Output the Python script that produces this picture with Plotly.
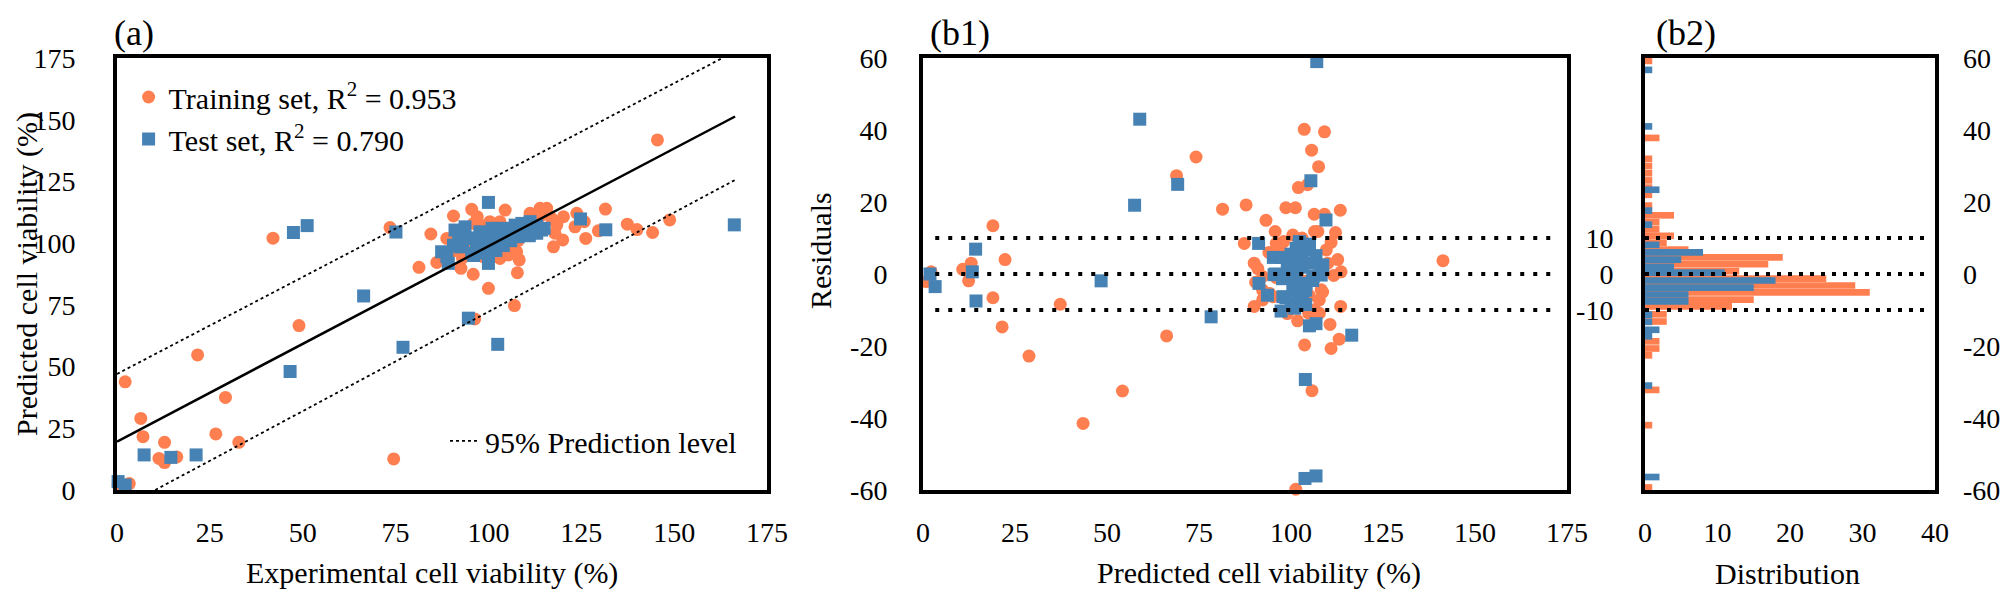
import plotly.graph_objects as go

# ---------------- data: panel (a) ----------------
train_exp = [2.2, 6.4, 7.0, 12.8, 11.3, 12.8, 16.1, 21.7, 26.6, 29.2, 32.8, 42.0, 49.0, 73.5, 74.5, 3.3, 0.3,
             96.3, 145.5, 148.8, 144.2, 140.0, 137.4, 131.5, 129.6,
             81.3, 84.5, 86.1, 90.6, 88.8, 90.6, 92.6, 95.5, 97.0, 95.9, 100.0, 100.4, 103.1, 104.5, 103.1,
             107.6, 108.3, 107.8, 107.0, 111.2, 113.9, 115.7, 117.0, 118.4, 117.9, 120.2, 117.5, 120.0, 123.8,
             123.3, 126.2, 125.8, 98.6, 100.4, 105.4,
             95, 100, 103, 106, 98, 110, 93, 97, 101, 104, 108, 112, 114, 99, 102, 105, 109, 111, 94, 96]
train_pred = [43.8, 29.0, 21.6, 19.3, 12.8, 11.1, 13.4, 54.7, 22.7, 37.5, 19.3, 102.0, 66.6, 106.3, 12.6, 2.6, 2.0,
              69.3, 141.8, 109.4, 104.3, 105.5, 107.7, 113.8, 105.0,
              90.2, 103.7, 92.2, 111.0, 101.9, 96.9, 89.8, 113.7, 110.7, 87.4, 81.7, 108.7, 108.7, 113.4, 93.8,
              96.5, 93.2, 88.0, 74.7, 112.1, 114.1, 114.1, 110.0, 107.3, 104.0, 110.7, 98.5, 101.3, 112.1,
              106.6, 101.9, 108.7, 94.5, 100.6, 95.2,
              100, 103, 100, 102, 105, 107, 94, 97, 98, 104, 101, 109, 111, 107, 96, 99, 106, 104, 103, 108]

test_exp = [0.3, 2.2, 7.3, 14.5, 21.3, 46.6, 47.5, 51.2, 66.4, 75.1, 77.0, 94.6, 102.5, 100.0, 124.8, 131.6, 166.2,
            87.4, 89.2, 91.0, 93.7, 92.4, 95.5, 100.0, 96.8, 100.0, 102.2, 104.9, 107.2, 110.3, 111.2, 113.0,
            114.3, 97.7, 94.1, 103.1, 108.0, 90.6, 88.8,
            93, 95, 97, 99, 101, 103, 105, 106, 108, 110, 112, 98, 96, 102, 104, 100, 92, 109, 106, 111,
            113, 115, 104, 101, 99, 97]
test_pred = [3.4, 2.0, 14.2, 13.2, 14.2, 48.0, 104.3, 107.1, 78.6, 104.5, 57.8, 69.6, 59.0, 116.5, 109.8, 105.4, 107.4,
             96.5, 91.8, 105.3, 106.6, 98.5, 95.9, 91.8, 100.6, 100.6, 104.6, 104.0, 107.3, 106.0, 108.7, 104.0,
             105.3, 104.6, 101.9, 99.2, 102.6, 99.2, 94.5,
             99, 102, 98, 103, 101, 102, 103, 105, 104, 104, 106, 96, 95, 97, 99, 95, 101, 108, 101, 103,
             107, 106, 106, 106, 98, 102]

fit_x = [0, 166.4]
fit_y = [19.6, 151.3]
upper_x = [0, 163]
upper_y = [47, 175]
lower_x = [10.3, 166.4]
lower_y = [0, 125.6]

# ---------------- data: panel (b1) ----------------
b1_train_pred = [2.2, 0.9, 10.8, 13.1, 12.4, 19.0, 22.3, 19.0, 21.5, 28.8, 37.3, 43.5, 54.2, 66.2, 68.9, 74.2,
                 81.4, 87.8, 87.3,
                 103.6, 109.1, 105.6, 107.5, 102.0, 104.5, 98.6, 101.2, 93.2, 106.3, 109.1, 113.4, 95.7, 112.1,
                 110.9, 90.0, 90.4, 112.7, 113.6, 111.6, 108.6, 90.0, 113.5, 101.8, 110.6, 103.7, 110.9, 113.1,
                 105.7, 101.3, 141.3, 106.4, 107.3, 96.0, 100.5, 109.6, 97.8, 92.3, 94.2, 92.3, 92.3, 107.7,
                 106.4, 104.8, 95.1, 108.2, 107.7, 91.0,
                 99, 101, 103, 105, 97, 100, 102, 104, 106, 98, 96, 94, 108, 110, 99, 103]
b1_train_res = [0.6, -2.1, 1.3, 3.0, -1.9, 13.4, 4.0, -6.6, -14.7, -22.8, -8.4, -41.5, -32.5, -17.2, 27.3, 32.5,
                18.0, 19.2, 8.5,
                40.2, 39.5, 34.4, 29.8, 24.0, 24.8, 18.4, 18.4, 14.9, 16.6, 16.6, 17.7, 11.8, 11.5,
                8.8, 3.0, -2.3, 4.0, 0.6, -0.4, -5.0, -9.0, -9.0, -13.0, -14.0, -19.7, -20.7, -18.1,
                -32.4, -59.8, 3.7, 11.8, 11.8, 8.5, 10.8, 6.7, 4.8, -0.7, -5.4, -4.5, -7.2, -10.9,
                -9.9, -10.9, -6.3, -4.4, -7.2, 1.5,
                2, -3, 5, -6, 7, -8, 1, -2, 3, 9, -1, 6, 0, 3, -11, 10]

b1_test_pred = [1.9, 3.3, 14.3, 13.4, 14.4, 48.4, 58.9, 57.5, 69.2, 78.3, 107.0, 105.4, 109.5, 91.2, 95.2, 97.3,
                91.3, 93.6, 97.3, 105.0, 106.8, 116.5, 103.9, 103.8, 106.8,
                102.3, 105.0, 101.4, 95.8, 108.6, 108.2, 102.3, 104.1, 100.5, 102.3, 98.7, 97.8, 104.1, 101.0,
                106.0, 100.1, 103.2, 95.4, 102.2, 105.0, 106.8, 108.6, 100.4, 103.2, 101.3, 104.0, 98.6, 102.2,
                99.5, 101.8, 97.7, 105.9, 103.0, 100.0, 106.0, 99.0, 104.0, 101.0]
b1_test_res = [0.0, -3.5, 6.9, 0.6, -7.5, -1.9, 43.0, 19.1, 24.9, -11.9, 59.0, 25.9, 15.0, 8.5, 4.6, 4.6,
               -2.6, -5.9, -10.3, -14.4, -13.8, -17.0, -29.3, -56.8, -56.1,
               9.0, 8.1, 7.1, 0.0, 2.5, -0.3, 3.0, -2.6, -4.4, -7.2, -0.7, -6.3, 6.7, 1.1,
               -0.7, -8.1, -5.4, -0.2, 8.3, 8.3, 5.1, 2.4, 3.0, 1.9, -2.3, -4.5, -6.6, -7.7,
               -0.2, 6.2, -1.3, -1.8, 4.5, 5.5, 3.0, 2.0, -8.5, -9.5]

ref_levels = [10, 0, -10]

# ---------------- data: panel (b2) histogram ----------------
hist_train_res = [59.2, 37.8, 32, 30, 28, 26, 24, 22, 19, 16.3, 14.4, 12.4, 10.6, 8.7, 6.8, 4.6, 2.7, 0.8,
                  -1.3, -3.2, -5.1, -7.1, -9.0, -11.2, -13.2, -18.7, -20.7, -22.6, -32.2, -42.0, -59.3]
hist_train_cnt = [1, 2, 1, 1, 1, 1, 1, 1, 1, 4, 2, 2, 4, 3, 6, 19, 17, 13,
                  25, 29, 31, 15, 12, 3, 3, 2, 2, 1, 2, 1, 1]
hist_test_res = [56.7, 41.0, 23.4, 17.6, 13.7, 8.1, 6.0, 4.0, 2.0, 0.4, -1.8, -3.8, -5.7, -7.6,
                 -11.3, -13.3, -15.5, -17.3, -31.0, -56.4]
hist_test_cnt = [1, 1, 2, 1, 1, 2, 8, 5, 4, 11, 18, 15, 6, 6,
                 1, 1, 2, 1, 1, 2]

# ticks
tick_a = [0, 25, 50, 75, 100, 125, 150, 175]
tick_res = [60, 40, 20, 0, -20, -40, -60]
tick_res_txt = ["60", "40", "20", "0", "-20", "-40", "-60"]
tick_res_left_b2 = [10, 0, -10]
tick_res_left_b2_txt = ["10", "0", "-10"]
tick_dist = [0, 10, 20, 30, 40]

ORANGE = "#FF7F50"
BLUE = "#4682B4"
FONT = "Times New Roman, Liberation Serif, serif"
TICK_SIZE = 28
TITLE_SIZE = 30
PANEL_SIZE = 36

# the page body adds an 8 px margin, so the figure is 8 px smaller on each axis
W, H = 2000, 589

fig = go.Figure()

# panel (a)
fig.add_trace(go.Scatter(x=train_exp, y=train_pred, mode="markers", name="Training set, R<sup>2</sup> = 0.953",
                         marker=dict(color=ORANGE, size=13, symbol="circle"), cliponaxis=False,
                         xaxis="x", yaxis="y", legend="legend"))
fig.add_trace(go.Scatter(x=test_exp, y=test_pred, mode="markers", name="Test set, R<sup>2</sup> = 0.790",
                         marker=dict(color=BLUE, size=13, symbol="square"), cliponaxis=False,
                         xaxis="x", yaxis="y", legend="legend"))
fig.add_trace(go.Scatter(x=fit_x, y=fit_y, mode="lines", line=dict(color="black", width=2.5),
                         showlegend=False, xaxis="x", yaxis="y"))
fig.add_trace(go.Scatter(x=upper_x, y=upper_y, mode="lines", line=dict(color="black", width=1.8, dash="dot"),
                         name="95% Prediction level", legendgroup="pl", legend="legend2",
                         xaxis="x", yaxis="y"))
fig.add_trace(go.Scatter(x=lower_x, y=lower_y, mode="lines", line=dict(color="black", width=1.8, dash="dot"),
                         showlegend=False, legendgroup="pl", xaxis="x", yaxis="y"))

# panel (b1)
fig.add_trace(go.Scatter(x=b1_train_pred, y=b1_train_res, mode="markers",
                         marker=dict(color=ORANGE, size=13, symbol="circle"), cliponaxis=False,
                         showlegend=False, xaxis="x2", yaxis="y2"))
fig.add_trace(go.Scatter(x=b1_test_pred, y=b1_test_res, mode="markers",
                         marker=dict(color=BLUE, size=13, symbol="square"), cliponaxis=False,
                         showlegend=False, xaxis="x2", yaxis="y2"))

# panel (b2)
fig.add_trace(go.Bar(x=hist_train_cnt, y=hist_train_res, orientation="h", width=1.85,
                     marker=dict(color=ORANGE, line=dict(width=0)), showlegend=False,
                     xaxis="x3", yaxis="y3"))
fig.add_trace(go.Bar(x=hist_test_cnt, y=hist_test_res, orientation="h", width=1.85,
                     marker=dict(color=BLUE, line=dict(width=0)), showlegend=False,
                     xaxis="x3", yaxis="y4"))

frame = dict(showline=True, mirror=True, linewidth=4, linecolor="black", showgrid=False, zeroline=False,
             ticks="", automargin=False, tickfont=dict(family=FONT, size=TICK_SIZE, color="black"))

dom_y = [0.1817, 0.9151]
fig.update_layout(
    width=W, height=H,
    margin=dict(l=0, r=0, t=0, b=0),
    paper_bgcolor="white", plot_bgcolor="white",
    font=dict(family=FONT, color="black"),
    barmode="overlay",
    xaxis=dict(domain=[0.0545, 0.3795], range=[0, 175], tickvals=tick_a, anchor="y",
               ticklabelstandoff=14, **frame),
    yaxis=dict(domain=dom_y, range=[0, 175], tickvals=tick_a, anchor="x",
               ticklabelstandoff=32, **frame),
    xaxis2=dict(domain=[0.4575, 0.7795], range=[0, 175], tickvals=tick_a, anchor="y2",
                ticklabelstandoff=14, **frame),
    yaxis2=dict(domain=dom_y, range=[-60, 60], tickvals=tick_res, ticktext=tick_res_txt, anchor="x2",
                ticklabelstandoff=26, **frame),
    xaxis3=dict(domain=[0.8185, 0.9635], range=[0, 40], tickvals=tick_dist, anchor="y3",
                ticklabelstandoff=14, **frame),
    yaxis3=dict(domain=dom_y, range=[-60, 60], tickvals=tick_res_left_b2, ticktext=tick_res_left_b2_txt,
                anchor="x3", ticklabelstandoff=22, **frame),
    yaxis4=dict(range=[-60, 60], tickvals=tick_res, ticktext=tick_res_txt, anchor="x3", overlaying="y3",
                side="right", showline=False, showgrid=False, zeroline=False, ticks="", automargin=False,
                ticklabelstandoff=27, tickfont=dict(family=FONT, size=TICK_SIZE, color="black")),
    legend=dict(x=0.0603, y=0.893, xanchor="left", yanchor="top", bgcolor="rgba(0,0,0,0)",
                font=dict(family=FONT, size=TITLE_SIZE, color="black"), tracegroupgap=0),
    legend2=dict(x=0.2185, y=0.2649, xanchor="left", yanchor="middle", bgcolor="rgba(0,0,0,0)",
                 font=dict(family=FONT, size=TITLE_SIZE, color="black")),
)

# dotted reference lines (b1 and b2)
for v in ref_levels:
    fig.add_shape(type="line", xref="x2 domain", yref="y2", x0=0.019, x1=0.981, y0=v, y1=v,
                  line=dict(color="black", width=4, dash="4px,9px"), layer="above")
    fig.add_shape(type="line", xref="x3 domain", yref="y3", x0=0.0, x1=0.976, y0=v, y1=v,
                  line=dict(color="black", width=4, dash="4px,7px"), layer="above")

# axis titles & panel labels
ann = [
    ("Experimental cell viability (%)", 0.212, 0.040, 0, TITLE_SIZE),
    ("Predicted cell viability (%)", 0.0095, 0.5484, -90, TITLE_SIZE),
    ("Predicted cell viability (%)", 0.6255, 0.040, 0, TITLE_SIZE),
    ("Residuals", 0.406, 0.5874, -90, TITLE_SIZE),
    ("Distribution", 0.8895, 0.040, 0, TITLE_SIZE),
    ("(a)", 0.063, 0.957, 0, PANEL_SIZE),
    ("(b1)", 0.476, 0.957, 0, PANEL_SIZE),
    ("(b2)", 0.839, 0.957, 0, PANEL_SIZE),
]
for txt, x, y, ang, sz in ann:
    fig.add_annotation(text=txt, x=x, y=y, xref="paper", yref="paper", showarrow=False, textangle=ang,
                       xanchor="center", yanchor="middle", font=dict(family=FONT, size=sz, color="black"))

fig.write_html("out.html")
